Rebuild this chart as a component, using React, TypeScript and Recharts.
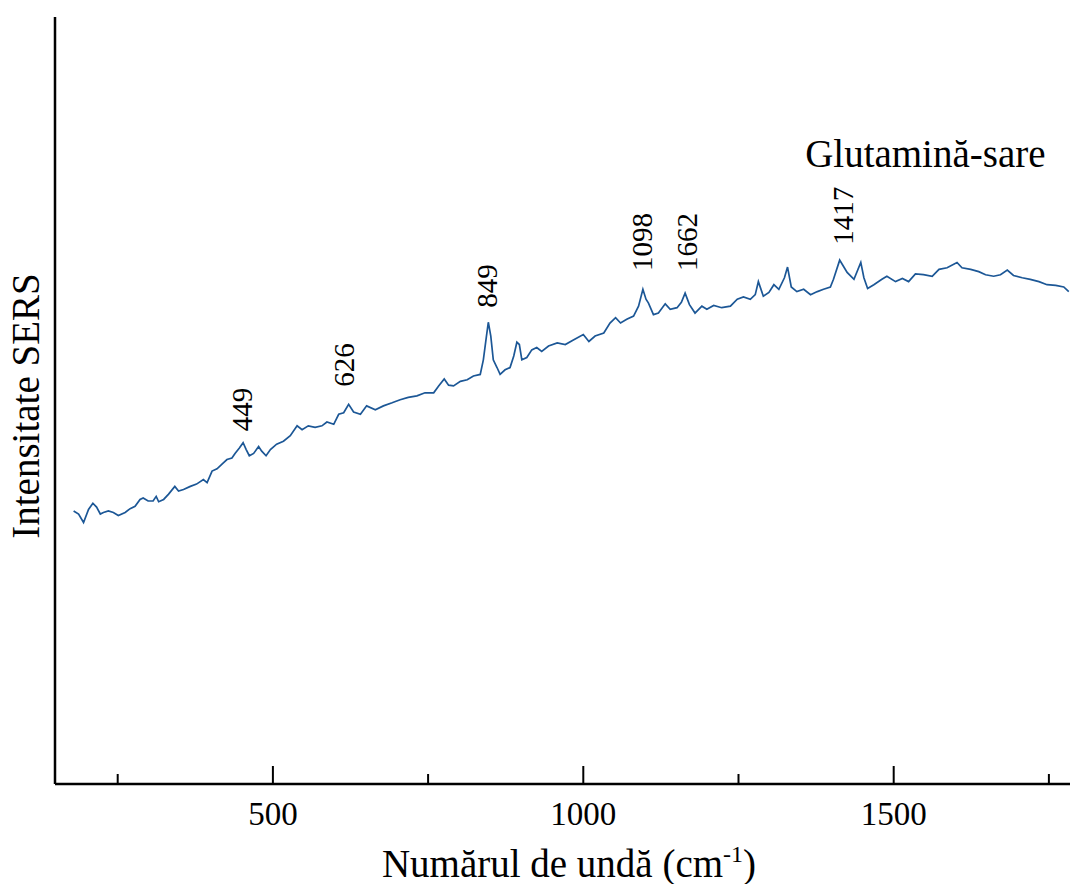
import React from 'react';
import { LineChart, Line, XAxis, YAxis, ReferenceDot } from 'recharts';

const FONT = "'Liberation Serif', 'Times New Roman', serif";

const wavenumbers = [
  179, 187, 195, 203, 210, 216, 222, 227, 235, 243, 251, 262, 270, 278, 286, 291, 299, 307, 312, 316,
  324, 332, 342, 348, 356, 367, 377, 388, 394, 402, 410, 418, 426, 434, 439, 446, 452, 457, 462, 469,
  477, 482, 489, 496, 506, 517, 528, 539, 547, 557, 568, 579, 587, 598, 606, 614, 622, 630, 641, 651,
  665, 678, 692, 705, 718, 732, 745, 759, 767, 776, 783, 791, 802, 813, 823, 834, 839, 844, 847, 851,
  855, 861, 866, 874, 882, 888, 893, 897, 901, 909, 917, 925, 933, 944, 958, 971, 984, 1000, 1009, 1019,
  1033, 1043, 1052, 1060, 1070, 1081, 1089, 1096, 1101, 1105, 1113, 1121, 1132, 1140, 1151, 1158, 1164, 1171, 1180, 1191,
  1199, 1210, 1223, 1237, 1248, 1258, 1269, 1277, 1282, 1290, 1299, 1307, 1315, 1324, 1329, 1335, 1344, 1355, 1366, 1377,
  1387, 1398, 1403, 1413, 1419, 1425, 1436, 1447, 1452, 1458, 1468, 1481, 1489, 1503, 1514, 1524, 1535, 1548, 1562, 1573,
  1586, 1602, 1610, 1624, 1637, 1648, 1661, 1672, 1683, 1693, 1707, 1720, 1734, 1747, 1761, 1774, 1782,
];

const intensities = [
  35.6, 35.2, 34.1, 35.8, 36.6, 36.1, 35.2, 35.4, 35.6, 35.4, 35.0, 35.4, 35.9, 36.2, 37.1, 37.3, 36.9, 36.9, 37.5, 36.8,
  37.1, 37.8, 38.8, 38.2, 38.4, 38.8, 39.1, 39.7, 39.3, 40.8, 41.1, 41.7, 42.3, 42.5, 43.1, 43.8, 44.5, 43.6, 42.8, 43.1,
  44.0, 43.4, 42.8, 43.6, 44.3, 44.7, 45.4, 46.7, 46.2, 46.7, 46.5, 46.7, 47.2, 46.9, 48.2, 48.4, 49.5, 48.5, 48.2, 49.3,
  48.8, 49.3, 49.7, 50.1, 50.4, 50.6, 51.0, 51.0, 51.9, 52.8, 52.0, 51.9, 52.5, 52.7, 53.2, 53.4, 55.3, 58.4, 60.2, 58.4,
  55.3, 54.3, 53.4, 54.0, 54.3, 55.8, 57.6, 57.3, 55.3, 55.6, 56.6, 56.9, 56.4, 57.1, 57.5, 57.3, 57.9, 58.6, 57.7, 58.4,
  58.8, 60.1, 60.8, 60.1, 60.6, 61.0, 62.3, 64.5, 63.2, 62.7, 61.2, 61.4, 62.6, 61.9, 62.1, 62.8, 64.0, 62.5, 61.4, 62.3,
  61.9, 62.4, 62.1, 62.3, 63.2, 63.5, 63.2, 63.8, 65.5, 63.6, 64.1, 65.1, 64.5, 66.0, 67.4, 64.8, 64.2, 64.5, 63.8, 64.2,
  64.5, 64.8, 65.8, 68.3, 67.5, 66.7, 65.8, 68.0, 66.0, 64.6, 65.1, 65.8, 66.2, 65.5, 65.9, 65.5, 66.5, 66.4, 66.2, 67.1,
  67.3, 68.0, 67.3, 67.1, 66.8, 66.4, 66.2, 66.4, 67.0, 66.3, 66.0, 65.8, 65.5, 65.1, 65.0, 64.8, 64.2,
];

const xTicks = [250, 500, 750, 1000, 1250, 1500, 1750];
const xLabeledTicks = [500, 1000, 1500];

const peakLabels = ['449', '626', '849', '1098', '1662', '1417'];
const peakLabelX = [450, 615, 845, 1094, 1167, 1418];
const peakLabelY = [46.0, 51.8, 62.1, 66.9, 66.9, 70.3];

const sampleName = 'Glutamină-sare';
const sampleNameX = 1551;
const sampleNameY = 80.5;

const xTitle = 'Numărul de undă (cm';
const xTitleSup = '-1';
const yTitle = 'Intensitate SERS';

const data = wavenumbers.map((x, i) => ({ x, y: intensities[i] }));

const XTick = (props: any) => {
  const { x, y, payload } = props;
  const major = xLabeledTicks.includes(payload.value);
  return (
    <g>
      <line x1={x} y1={y} x2={x} y2={y - (major ? 18 : 10)} stroke="#000" strokeWidth={2} />
      {major && (
        <text x={x} y={y + 41} textAnchor="middle" fontSize={33} fontFamily={FONT} fill="#000">
          {payload.value}
        </text>
      )}
    </g>
  );
};

export default function App() {
  return (
    <div style={{ position: 'absolute', left: 0, top: 0, width: 1070, height: 884, background: '#fff' }}>
      <LineChart width={1070} height={884} data={data} margin={{ top: 17, right: 0, bottom: 0, left: 0 }}>
        <XAxis
          dataKey="x"
          type="number"
          domain={[149, 1784]}
          ticks={xTicks}
          interval={0}
          tickSize={0}
          tickMargin={0}
          tickLine={false}
          tick={<XTick />}
          height={100}
          axisLine={{ stroke: '#000', strokeWidth: 2.5 }}
          allowDataOverflow
          label={{
            content: () => (
              <text x={569} y={877} textAnchor="middle" fontSize={39} fontFamily={FONT} fill="#000">
                {xTitle}
                <tspan dy={-15} fontSize={24}>{xTitleSup}</tspan>
                <tspan dy={15}>)</tspan>
              </text>
            ),
          }}
        />
        <XAxis
          xAxisId="top"
          orientation="top"
          dataKey="x"
          type="number"
          domain={[149, 1784]}
          height={0}
          tick={false}
          tickLine={false}
          axisLine={{ stroke: '#000', strokeWidth: 2.5 }}
          allowDataOverflow
        />
        <YAxis
          type="number"
          domain={[0, 100]}
          width={55}
          tick={false}
          tickLine={false}
          axisLine={{ stroke: '#000', strokeWidth: 2.5 }}
          allowDataOverflow
          label={{
            content: () => (
              <text
                x={39}
                y={406}
                transform="rotate(-90 39 406)"
                textAnchor="middle"
                fontSize={39}
                fontFamily={FONT}
                fill="#000"
              >
                {yTitle}
              </text>
            ),
          }}
        />
        <Line
          type="linear"
          dataKey="y"
          stroke="#1c5796"
          strokeWidth={1.7}
          dot={false}
          activeDot={false}
          isAnimationActive={false}
        />
        {peakLabels.map((lab, i) => (
          <ReferenceDot
            key={lab}
            x={peakLabelX[i]}
            y={peakLabelY[i]}
            r={1}
            ifOverflow="visible"
            shape={(p: any) => (
              <text
                x={p.cx + 10}
                y={p.cy}
                transform={`rotate(-90 ${p.cx + 10} ${p.cy})`}
                textAnchor="start"
                fontSize={29}
                fontFamily={FONT}
                fill="#000"
              >
                {lab}
              </text>
            )}
          />
        ))}
        <ReferenceDot
          x={sampleNameX}
          y={sampleNameY}
          r={1}
          ifOverflow="visible"
          shape={(p: any) => (
            <text x={p.cx} y={p.cy} textAnchor="middle" fontSize={39} fontFamily={FONT} fill="#000">
              {sampleName}
            </text>
          )}
        />
      </LineChart>
    </div>
  );
}
